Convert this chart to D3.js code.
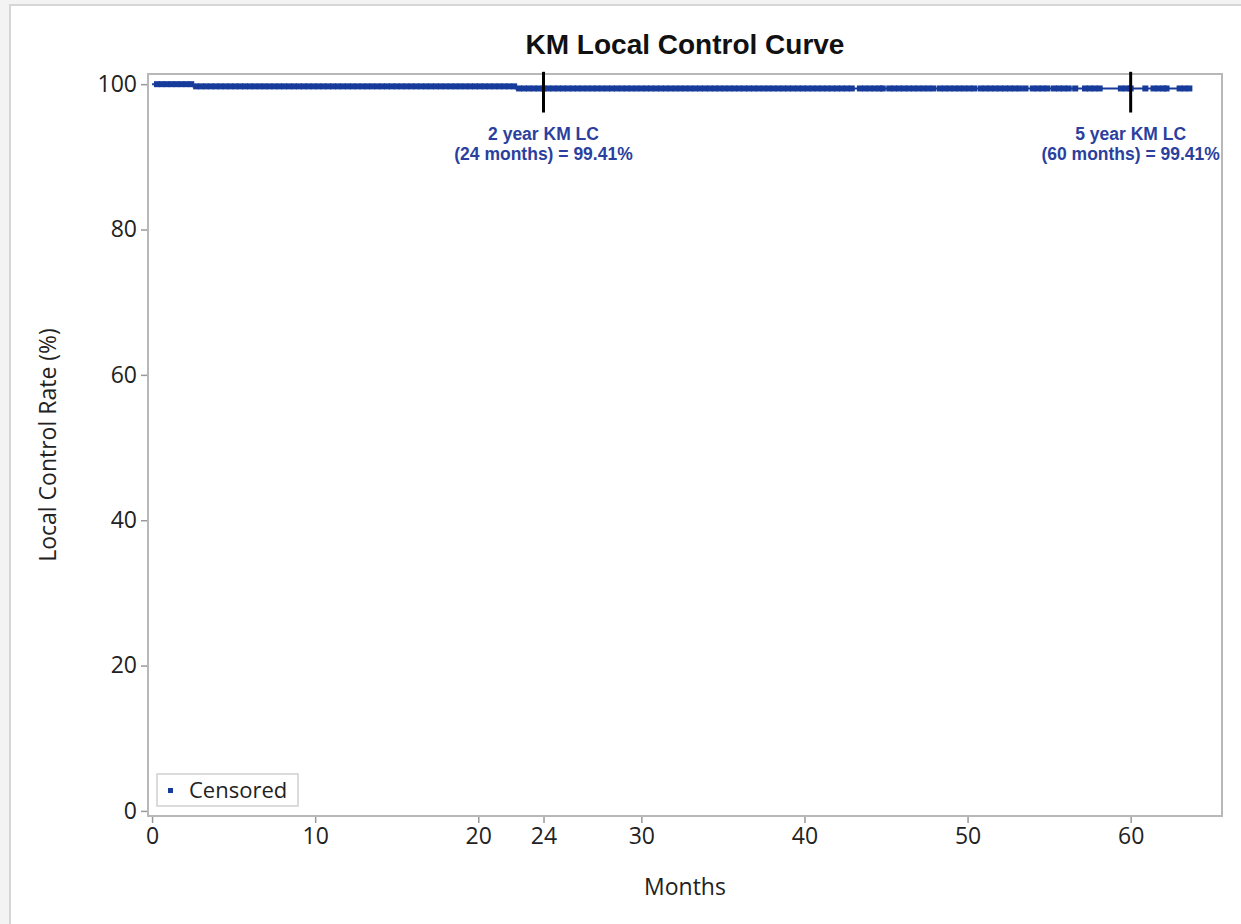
<!DOCTYPE html>
<html>
<head>
<meta charset="utf-8">
<script src="https://cdn.jsdelivr.net/npm/d3@7"></script>
<style>
  html, body { margin: 0; padding: 0; background: #f3f3f3; }
  svg { display: block; }
</style>
</head>
<body>
<svg id="chart"></svg>
<script>
// KM curve: steps at event times
const eventTimes = [0, 2.5, 22.3];
const survival = [100, 99.7, 99.41];
const lastTime = 63.7;

// censored times
const censorTimes = [
  0.3,0.6,0.9,1.2,1.5,1.8,2.1,2.4,2.7,3.0,3.3,3.6,3.9,4.2,4.5,4.8,5.1,5.4,5.7,6.0,
  6.3,6.6,6.9,7.2,7.5,7.8,8.1,8.4,8.7,9.0,9.3,9.6,9.9,10.2,10.5,10.8,11.1,11.4,11.7,12.0,
  12.3,12.6,12.9,13.2,13.5,13.8,14.1,14.4,14.7,15.0,15.3,15.6,15.9,16.2,16.5,16.8,17.1,17.4,17.7,18.0,
  18.3,18.6,18.9,19.2,19.5,19.8,20.1,20.4,20.7,21.0,21.3,21.6,21.9,22.2,22.5,22.8,23.1,23.4,23.7,24.0,
  24.3,24.6,24.9,25.2,25.5,25.8,26.1,26.4,26.7,27.0,27.3,27.6,27.9,28.2,28.5,28.8,29.1,29.4,29.7,30.0,
  30.3,30.6,30.9,31.2,31.5,31.8,32.1,32.4,32.7,33.0,33.3,33.6,33.9,34.2,34.5,34.8,35.1,35.4,35.7,36.0,
  36.3,36.6,36.9,37.2,37.5,37.8,38.1,38.4,38.7,39.0,39.3,39.6,39.9,40.2,40.5,40.8,41.1,41.4,41.7,42.0,
  42.3,42.6,42.9,
  43.4,43.7,44.0,44.3,44.6,44.8,
  45.2,45.5,45.8,46.1,46.4,46.7,47.0,47.3,47.6,47.9,
  48.3,48.6,48.9,49.2,49.5,49.8,50.1,50.4,
  50.8,51.1,51.4,51.7,52.0,52.3,52.6,52.9,53.2,
  53.55,
  54.0,54.3,54.6,54.9,
  55.3,55.6,55.9,56.2,
  56.6,
  57.2,57.5,57.8,58.1,
  59.4,59.7,60.0,
  60.9,
  61.4,61.7,62.0,62.2,
  63.0,63.3,63.6
];

const xTicks = [0, 10, 20, 24, 30, 40, 50, 60];
const yTicks = [0, 20, 40, 60, 80, 100];

const refMonths = [24, 60];
const refLabels = [
  ["2 year KM LC", "(24 months) = 99.41%"],
  ["5 year KM LC", "(60 months) = 99.41%"]
];

const W = 1241, H = 924;
const blue = "#163b9b";
const pLeft = 148, pRight = 1222, pTop = 74, pBottom = 816;
const labelFont = "'Open Sans', sans-serif";

const svg = d3.select("#chart").attr("width", W).attr("height", H);

// outer frame
svg.append("rect")
  .attr("x", 10).attr("y", 5).attr("width", W).attr("height", H)
  .attr("fill", "#fff").attr("stroke", "#d6d6d6").attr("stroke-width", 2);

const xScale = d3.scaleLinear().domain([-0.25, 65.6]).range([pLeft, pRight]);
const yScale = d3.scaleLinear().domain([-0.7, 101.4]).range([pBottom, pTop]);

function survAt(t) {
  let s = survival[0];
  for (let i = 0; i < eventTimes.length; i++) if (t >= eventTimes[i]) s = survival[i];
  return s;
}

// axes
const xAxis = d3.axisBottom(xScale).tickValues(xTicks).tickSize(7).tickPadding(5).tickFormat(d3.format("d"));
const yAxis = d3.axisLeft(yScale).tickValues(yTicks).tickSize(7).tickPadding(4).tickFormat(d3.format("d"));

const gx = svg.append("g").attr("transform", `translate(0,${pBottom})`).call(xAxis);
const gy = svg.append("g").attr("transform", `translate(${pLeft},0)`).call(yAxis);
[gx, gy].forEach(g => {
  g.select(".domain").remove();
  g.selectAll(".tick line").attr("stroke", "#999").attr("stroke-width", 1.5);
  g.selectAll(".tick text").attr("fill", "#222")
    .style("font-family", labelFont).style("font-size", "23px");
});

// plot frame
svg.append("rect")
  .attr("x", pLeft).attr("y", pTop).attr("width", pRight - pLeft).attr("height", pBottom - pTop)
  .attr("fill", "none").attr("stroke", "#b8b8b8").attr("stroke-width", 2);

// step line
const stepPts = eventTimes.map((t, i) => [t, survival[i]]);
stepPts.push([lastTime, survival[survival.length - 1]]);
const line = d3.line().curve(d3.curveStepAfter).x(d => xScale(d[0])).y(d => yScale(d[1]));
svg.append("path").datum(stepPts)
  .attr("d", line).attr("fill", "none").attr("stroke", blue).attr("stroke-width", 2);

// censor marks
const ms = 6;
svg.append("g").selectAll("rect").data(censorTimes).join("rect")
  .attr("x", d => xScale(d) - ms / 2)
  .attr("y", d => yScale(survAt(d)) - ms / 2)
  .attr("width", ms).attr("height", ms)
  .attr("fill", blue);

// reference lines + labels
refMonths.forEach((m, i) => {
  svg.append("line")
    .attr("x1", xScale(m)).attr("x2", xScale(m))
    .attr("y1", yScale(101.7)).attr("y2", yScale(96.1))
    .attr("stroke", "#000").attr("stroke-width", 3);
  const t = svg.append("text")
    .attr("text-anchor", "middle")
    .attr("fill", "#2b3f9e")
    .style("font-family", "'Liberation Sans', Arial, sans-serif")
    .style("font-weight", "bold").style("font-size", "17.5px");
  refLabels[i].forEach((s, j) => {
    t.append("tspan").attr("x", xScale(m)).attr("y", 140 + j * 20).text(s);
  });
});

// title
svg.append("text")
  .attr("x", (pLeft + pRight) / 2).attr("y", 54)
  .attr("text-anchor", "middle").attr("fill", "#111")
  .style("font-family", "'Liberation Sans', Arial, sans-serif")
  .style("font-weight", "bold").style("font-size", "28px")
  .text("KM Local Control Curve");

// axis titles
svg.append("text")
  .attr("x", (pLeft + pRight) / 2).attr("y", 895)
  .attr("text-anchor", "middle").attr("fill", "#222")
  .style("font-family", labelFont).style("font-size", "23px")
  .text("Months");

svg.append("text")
  .attr("transform", `translate(56,${(pTop + pBottom) / 2}) rotate(-90)`)
  .attr("text-anchor", "middle").attr("fill", "#222")
  .style("font-family", labelFont).style("font-size", "23px")
  .text("Local Control Rate (%)");

// legend
const lg = svg.append("g");
lg.append("rect").attr("x", 157).attr("y", 774).attr("width", 141).attr("height", 32)
  .attr("fill", "#fff").attr("stroke", "#d0d0d0").attr("stroke-width", 1.5);
lg.append("rect").attr("x", 168).attr("y", 788).attr("width", 5).attr("height", 5).attr("fill", blue);
lg.append("text").attr("x", 189).attr("y", 798).attr("fill", "#222")
  .style("font-family", labelFont).style("font-size", "22px")
  .text("Censored");
</script>
</body>
</html>
